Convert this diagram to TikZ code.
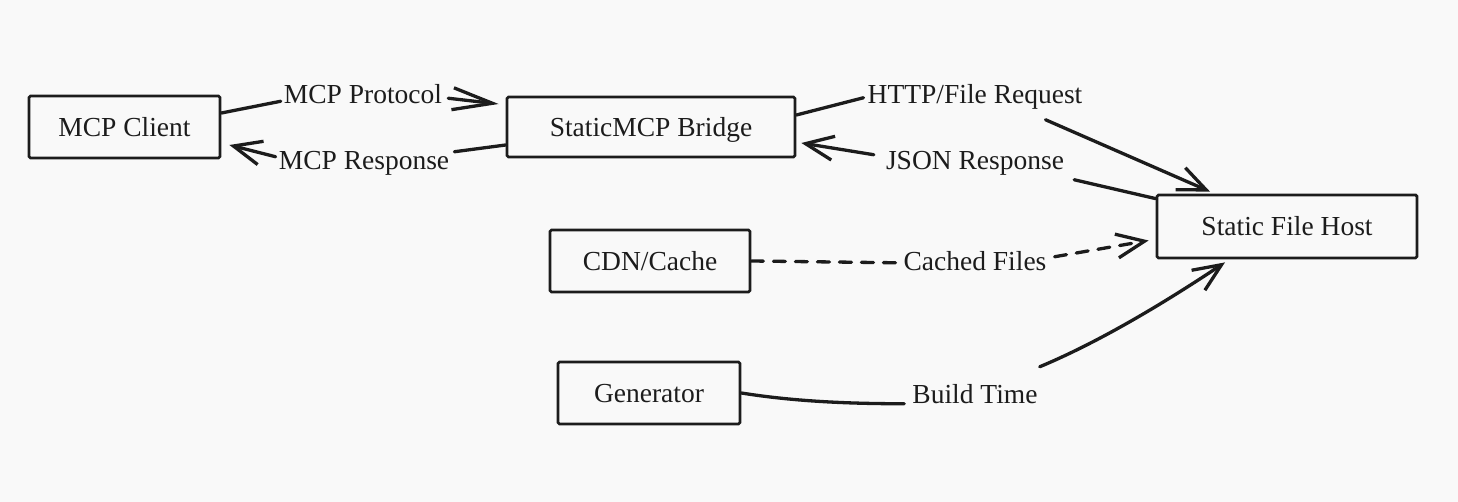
\documentclass[tikz,border=0pt]{standalone}
\usepackage{fontspec}
\setmainfont{Liberation Serif}
\usetikzlibrary{arrows.meta}
\definecolor{bgc}{RGB}{249,249,249}
\definecolor{ink}{RGB}{28,28,28}
\tikzset{
  box/.style={draw=ink, line width=2.8pt, rounded corners=1.5pt, inner sep=0pt,
    text height=18.5pt, text depth=0pt, font=\fontsize{27.5}{32}\selectfont, text=ink},
  lbl/.style={inner sep=0pt, text height=18.5pt, text depth=6pt, anchor=base,
    font=\fontsize{27.5}{32}\selectfont, text=ink},
  conn/.style={draw=ink, line width=3.3pt, line cap=round, line join=round},
  tip/.style={-{Straight Barb[length=28pt,width=24pt,line width=3.3pt]}},
  longtip/.style={-{Straight Barb[length=40pt,width=22pt,line width=3.3pt]}},
  dashline/.style={dash pattern=on 12pt off 10pt},
}
\begin{document}
\begin{tikzpicture}[x=1pt,y=-1pt]
\fill[bgc] (0,0) rectangle (1458,502);
\useasboundingbox (0,0) rectangle (1458,502);

% boxes
\node[box, minimum width=191pt, minimum height=62pt] (client) at (124.5,127) {MCP Client};
\node[box, minimum width=288pt, minimum height=60pt] (bridge) at (651,127) {StaticMCP Bridge};
\node[box, minimum width=260pt, minimum height=63pt] (host) at (1287,226.5) {Static File Host};
\node[box, minimum width=200pt, minimum height=62pt] (cdn) at (650,261) {CDN/Cache};
\node[box, minimum width=182pt, minimum height=62pt] (gen) at (649,393) {Generator};

% labels
\node[lbl] (lp) at (363,103.5) {MCP Protocol};
\node[lbl] (lr) at (364,170) {MCP Response};
\node[lbl] (lh) at (975,104) {HTTP/File Request};
\node[lbl] (lj) at (975,170) {JSON Response};
\node[lbl] (lc) at (975,271) {Cached Files};
\node[lbl] (lb) at (975,403) {Build Time};

% MCP Protocol
\draw[conn] ([yshift=14pt]client.east) -- ([xshift=-3pt,yshift=-4pt]lp.west);
\draw[conn,longtip] ([xshift=6pt,yshift=-1pt]lp.east) -- ([xshift=-7pt,yshift=23pt]bridge.west);

% MCP Response
\draw[conn] ([yshift=-18pt]bridge.west) -- ([xshift=5pt,yshift=12pt]lr.east);
\draw[conn,tip] ([xshift=-3pt,yshift=7pt]lr.west) -- ([xshift=8pt,yshift=-18pt]client.east);

% HTTP/File Request
\draw[conn] ([yshift=12pt]bridge.east) -- ([xshift=-4pt]lh.west);
\draw[conn,tip] ([xshift=-37pt,yshift=-22pt]lh.east) -- ([xshift=-77pt,yshift=2pt]host.north);

% JSON Response
\draw[conn] ([yshift=-5pt]host.north west) -- ([xshift=10pt,yshift=-16pt]lj.east);
\draw[conn,tip] ([xshift=-12pt,yshift=9pt]lj.west) -- ([xshift=5pt,yshift=-16pt]bridge.east);

% Cached Files (dashed)
\draw[conn,dashline] (cdn.east) -- ([xshift=-8pt,yshift=2pt]lc.west);
\draw[conn,dashline,tip] ([xshift=8pt,yshift=8pt]lc.east) -- ([xshift=-7pt,yshift=-14pt]host.west);

% Build Time
\draw[conn] (gen.east) .. controls +(50pt,-8pt) and +(-60pt,0pt) .. ([xshift=-8pt,yshift=-7pt]lb.west);
\draw[conn,tip] ([xshift=2pt,yshift=30pt]lb.east) .. controls +(60pt,25pt) and +(-60pt,-40pt) .. ([xshift=-62pt,yshift=-3pt]host.south);
\end{tikzpicture}
\end{document}
